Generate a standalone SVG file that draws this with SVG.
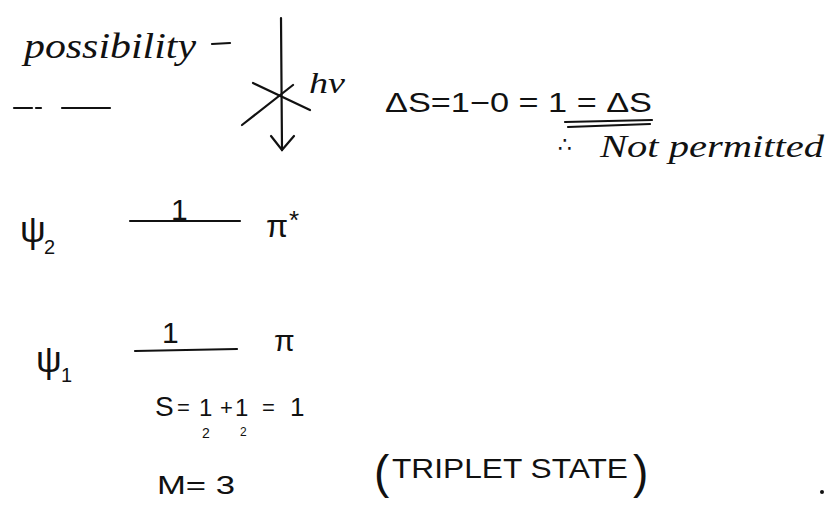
<svg xmlns="http://www.w3.org/2000/svg" width="833" height="518" viewBox="0 0 833 518">
<style>
.t{font-family:"Liberation Sans","DejaVu Sans",sans-serif;fill:#111}
.c{font-family:"Liberation Serif","DejaVu Serif",serif;font-style:italic;fill:#111}
.ln{stroke:#111;stroke-width:2.2;fill:none;stroke-linecap:round}
</style>
<rect width="833" height="518" fill="#fff"/>
<g id="header">
<text class="c" x="24" y="58" font-size="36" textLength="172" lengthAdjust="spacingAndGlyphs">possibility</text>
<line class="ln" x1="212" y1="44" x2="230" y2="43"/>
<line class="ln" x1="14" y1="108" x2="32" y2="108"/>
<line class="ln" x1="36" y1="108" x2="41" y2="108"/>
<line class="ln" x1="62" y1="108" x2="110" y2="108"/>
</g>
<g id="connectors">
<line class="ln" x1="281" y1="18" x2="282" y2="150"/>
<polyline class="ln" points="271,136 282,150 294,136"/>
<line class="ln" x1="253" y1="83" x2="310" y2="110"/>
<line class="ln" x1="242" y1="125" x2="293" y2="85"/>
</g>
<g id="photon">
<text class="c" x="309" y="93" font-size="30" textLength="36" lengthAdjust="spacingAndGlyphs">hν</text>
</g>
<g id="deltaS">
<text class="t" x="385" y="112" font-size="28" textLength="267" lengthAdjust="spacingAndGlyphs">ΔS=1−0 = 1 = ΔS</text>
<line class="ln" x1="565" y1="122" x2="652" y2="120"/>
<line class="ln" x1="568" y1="127" x2="650" y2="124"/>
<text class="t" x="558" y="152" font-size="22">∴</text>
<text class="c" x="600" y="157" font-size="32" textLength="224" lengthAdjust="spacingAndGlyphs">Not permitted</text>
</g>
<g id="psi2">
<text class="t" x="20" y="242" font-size="36">ψ</text>
<text class="t" x="44" y="254" font-size="20">2</text>
<line class="ln" x1="130" y1="221" x2="240" y2="221"/>
<text class="t" x="171" y="220" font-size="30">1</text>
<text class="t" x="266" y="237" font-size="32">π</text>
<text class="t" x="289" y="229" font-size="26">*</text>
</g>
<g id="psi1">
<text class="t" x="36" y="372" font-size="36">ψ</text>
<text class="t" x="61" y="382" font-size="20">1</text>
<line class="ln" x1="135" y1="351" x2="237" y2="349"/>
<text class="t" x="162" y="343" font-size="30">1</text>
<text class="t" x="274" y="351" font-size="30">π</text>
</g>
<g id="spin">
<text class="t" x="155" y="416" font-size="28">S</text>
<text class="t" x="177" y="415" font-size="22">=</text>
<text class="t" x="199" y="416" font-size="24">1</text>
<text class="t" x="202" y="438" font-size="14">2</text>
<text class="t" x="220" y="415" font-size="22">+</text>
<text class="t" x="235" y="416" font-size="24">1</text>
<text class="t" x="240" y="436" font-size="12">2</text>
<text class="t" x="262" y="415" font-size="22">=</text>
<text class="t" x="290" y="416" font-size="26">1</text>
<text class="t" x="157" y="494" font-size="26" textLength="78" lengthAdjust="spacingAndGlyphs">M= 3</text>
</g>
<g id="triplet">
<text class="t" x="374" y="488" font-size="46">(</text>
<text class="t" x="392" y="478" font-size="28" textLength="236" lengthAdjust="spacingAndGlyphs">TRIPLET  STATE</text>
<text class="t" x="633" y="488" font-size="46">)</text>
</g>
<circle cx="822" cy="492" r="2" fill="#111"/>
</svg>
